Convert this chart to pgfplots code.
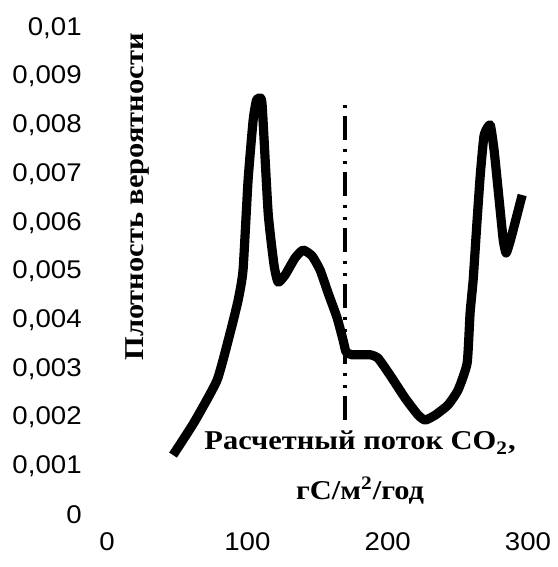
\documentclass[border=0pt]{standalone}
\usepackage{pgfplots}
\pgfplotsset{compat=1.18}
\usepackage{fontspec}
\setmainfont{Liberation Serif}
\newfontfamily\tickfont[FakeStretch=1.08]{Liberation Sans}
\newfontfamily\labfont[FakeStretch=1.12]{Liberation Serif}

\begin{document}
\begin{tikzpicture}
\begin{axis}[
  scale only axis,
  width=210.5pt, height=243.5pt,
  xmin=0, xmax=300, ymin=0, ymax=0.01,
  axis line style={draw=none},
  major tick length=0pt,
  clip=false,
  scaled y ticks=false,
  /pgf/number format/assume math mode=true,
  xtick={0,100,200,300},
  xticklabels={0,100,200,300},
  ytick={0,0.001,0.002,0.003,0.004,0.005,0.006,0.007,0.008,0.009,0.01},
  yticklabels={0,{0,001},{0,002},{0,003},{0,004},{0,005},{0,006},{0,007},{0,008},{0,009},{0,01}},
  ticklabel style={font=\tickfont\fontsize{12.8}{14}\selectfont, inner sep=0pt},
  yticklabel style={anchor=east, xshift=-12.5pt},
  xticklabel style={anchor=north, yshift=-8.5pt},
]
% estimated probability density of the CO2 flux
\addplot[black, line width=4.6pt, line join=round, line cap=butt, smooth, tension=0.3] coordinates {
  (47.0,0.00123) (62.0,0.00190) (78.4,0.00277) (87.7,0.00374)
  (93.4,0.00441) (96.9,0.00503) (100.5,0.00688) (104.1,0.00811)
  (106.5,0.00852) (108.6,0.00856) (110.5,0.00842) (114.8,0.00620)
  (119.0,0.00513) (121.9,0.00478) (126.9,0.00493) (134.0,0.00528)
  (139.7,0.00544) (146.1,0.00532) (151.8,0.00503) (157.5,0.00456)
  (163.9,0.00405) (168.2,0.00359) (170.3,0.00335) (174.6,0.00329)
  (187.4,0.00329) (193.1,0.00322) (201.7,0.00287) (212.4,0.00240)
  (221.7,0.00205) (226.7,0.00195) (233.8,0.00205) (243.0,0.00226)
  (250.2,0.00257) (256.6,0.00312) (258.7,0.00415) (260.9,0.00483)
  (263.5,0.00597) (266.0,0.00700) (268.7,0.00780) (273.0,0.00801)
  (275.8,0.00749) (279.4,0.00647) (282.3,0.00565) (284.4,0.00538)
  (287.9,0.00569) (295.8,0.00657)
};
% estimated flux marker
\addplot[black, line width=2pt, line cap=butt,
  dash pattern=on 12pt off 4pt on 1.6pt off 4.4pt on 1.6pt off 4.4pt]
  coordinates {(169.6,0.00195) (169.6,0.00842)};

\node[rotate=90, font=\labfont\bfseries\fontsize{13.6}{15}\selectfont]
  at (axis cs:21.4,0.00653) {Плотность вероятности};
\node[anchor=base, inner sep=0pt, font=\labfont\bfseries\fontsize{13.6}{15}\selectfont]
  at (axis cs:180.3,0.001335) {Расчетный поток CO\textsubscript{2},};
\node[anchor=base, inner sep=0pt, font=\labfont\bfseries\fontsize{13.6}{15}\selectfont]
  at (axis cs:180.3,0.000308) {гС/м\textsuperscript{2}/год};

\coordinate (bbA) at (axis cs:-76.3,-0.001068);
\coordinate (bbB) at (axis cs:320.7,0.010575);
\end{axis}
\pgfresetboundingbox
\path[use as bounding box] (bbA) rectangle (bbB);
\end{tikzpicture}
\end{document}
